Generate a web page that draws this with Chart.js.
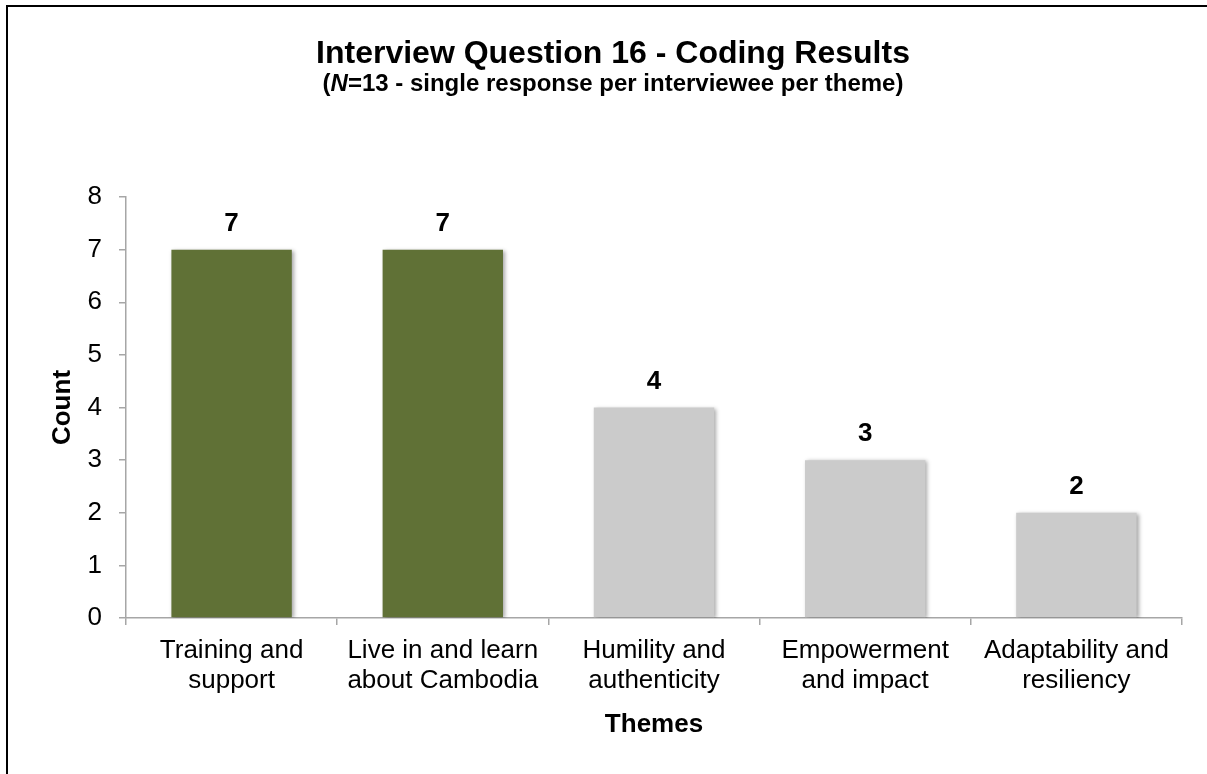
<!DOCTYPE html>
<html>
<head>
<meta charset="utf-8">
<script src="https://cdn.jsdelivr.net/npm/chart.js@4/dist/chart.umd.min.js"></script>
<style>
  html, body { margin: 0; padding: 0; background: #fff; }
  #wrap { width: 1207px; height: 774px; position: relative; }
</style>
</head>
<body>
<div id="wrap"><canvas id="codingChart" width="1207" height="774"></canvas></div>
<script>
const themes = [
  ['Training and', 'support'],
  ['Live in and learn', 'about Cambodia'],
  ['Humility and', 'authenticity'],
  ['Empowerment', 'and impact'],
  ['Adaptability and', 'resiliency']
];
const counts = [7, 7, 4, 3, 2];
const barColors = ['#607136', '#607136', '#cbcbcb', '#cbcbcb', '#cbcbcb'];
const yTicks = [0, 1, 2, 3, 4, 5, 6, 7, 8];

const FONT = "'Liberation Sans', Arial, sans-serif";
const axisGrey = '#a6a6a6';

// frame + heading (subtitle has an italic N, so draw it by hand)
const headingPlugin = {
  id: 'heading',
  beforeDraw(chart) {
    const ctx = chart.ctx;
    ctx.save();
    ctx.fillStyle = '#fff';
    ctx.fillRect(0, 0, chart.width, chart.height);
    ctx.strokeStyle = '#000';
    ctx.lineWidth = 2;
    ctx.strokeRect(7, 6, 1300, 900);
    ctx.restore();
  },
  afterDraw(chart) {
    const ctx = chart.ctx;
    const cx = 613;
    ctx.save();
    ctx.fillStyle = '#000';
    ctx.textBaseline = 'alphabetic';
    ctx.textAlign = 'center';
    ctx.font = 'bold 32px ' + FONT;
    ctx.fillText('Interview Question 16 - Coding Results', cx, 63);

    const parts = [
      ['(', 'bold 24px ' + FONT],
      ['N', 'italic bold 24px ' + FONT],
      ['=13 - single response per interviewee per theme)', 'bold 24px ' + FONT]
    ];
    let total = 0;
    parts.forEach(p => { ctx.font = p[1]; total += ctx.measureText(p[0]).width; });
    let x = cx - total / 2;
    ctx.textAlign = 'left';
    parts.forEach(p => {
      ctx.font = p[1];
      ctx.fillText(p[0], x, 91);
      x += ctx.measureText(p[0]).width;
    });
    ctx.restore();
  }
};

// soft shadow under the bars
const shadowPlugin = {
  id: 'barShadow',
  beforeDatasetsDraw(chart) {
    const ctx = chart.ctx;
    ctx.save();
    ctx.shadowColor = 'rgba(0, 0, 0, 0.35)';
    ctx.shadowBlur = 4;
    ctx.shadowOffsetX = 2;
    ctx.shadowOffsetY = 1;
  },
  afterDatasetsDraw(chart) {
    chart.ctx.restore();
  }
};

// value labels above bars
const valueLabels = {
  id: 'valueLabels',
  afterDatasetsDraw(chart) {
    const ctx = chart.ctx;
    const meta = chart.getDatasetMeta(0);
    ctx.save();
    ctx.font = 'bold 26px ' + FONT;
    ctx.fillStyle = '#000';
    ctx.textAlign = 'center';
    ctx.textBaseline = 'alphabetic';
    meta.data.forEach((bar, i) => {
      ctx.fillText(String(counts[i]), bar.x, bar.y - 19);
    });
    ctx.restore();
  }
};

new Chart(document.getElementById('codingChart'), {
  type: 'bar',
  data: {
    labels: themes,
    datasets: [{
      data: counts,
      backgroundColor: barColors,
      borderWidth: 0,
      barPercentage: 0.57,
      categoryPercentage: 1
    }]
  },
  options: {
    responsive: false,
    animation: false,
    events: [],
    layout: { padding: { top: 197, right: 25, bottom: 0, left: 0 } },
    plugins: {
      legend: { display: false },
      tooltip: { enabled: false },
      title: { display: false }
    },
    scales: {
      x: {
        afterFit(scale) { scale.height = 774 - 618; },
        grid: {
          drawOnChartArea: false,
          offset: true,
          color: axisGrey,
          lineWidth: 1.5,
          tickLength: 7
        },
        border: { color: axisGrey, width: 1.5 },
        ticks: {
          color: '#000',
          padding: 11,
          maxRotation: 0,
          autoSkip: false,
          font: { family: FONT, size: 26, lineHeight: 1.15 }
        },
        title: {
          display: true,
          text: 'Themes',
          color: '#000',
          padding: { top: 0, bottom: 34 },
          font: { family: FONT, size: 26, weight: 'bold', lineHeight: 1.2 }
        }
      },
      y: {
        min: 0,
        max: 8,
        afterFit(scale) { scale.width = 126; },
        afterBuildTicks(scale) { scale.ticks = yTicks.map(v => ({ value: v })); },
        grid: {
          drawOnChartArea: false,
          color: axisGrey,
          lineWidth: 1.5,
          tickLength: 7
        },
        border: { color: axisGrey, width: 1.5 },
        ticks: {
          color: '#000',
          padding: 17,
          font: { family: FONT, size: 26 }
        },
        title: {
          display: true,
          text: 'Count',
          color: '#000',
          padding: { top: 47, bottom: 0 },
          font: { family: FONT, size: 26, weight: 'bold', lineHeight: 1.2 }
        }
      }
    }
  },
  plugins: [headingPlugin, shadowPlugin, valueLabels]
});
</script>
</body>
</html>
